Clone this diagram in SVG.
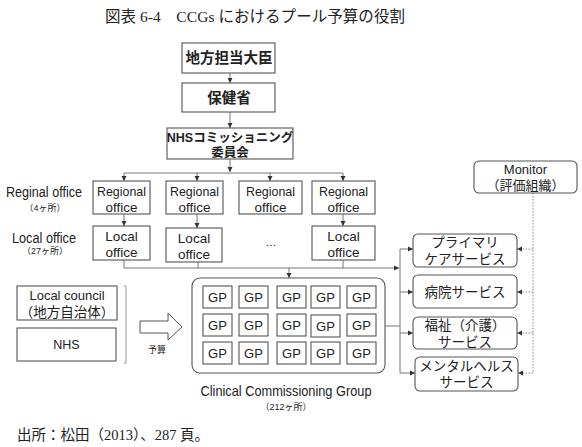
<svg xmlns="http://www.w3.org/2000/svg" width="582" height="447" viewBox="0 0 582 447">
<defs>
<style>
.bx{fill:#fff;stroke:#555;stroke-width:1.1}
.t{font-family:"Liberation Sans","Noto Sans CJK JP",sans-serif;fill:#222;text-anchor:middle;dominant-baseline:central}
.tb{font-weight:bold}
.c{fill:none;stroke:#777;stroke-width:1}
.d{fill:none;stroke:#888;stroke-width:1;stroke-dasharray:1.5 1.5}
.ser{font-family:"Liberation Serif","Noto Sans CJK JP",serif;fill:#222}
</style>
<marker id="ah" markerWidth="6" markerHeight="6" refX="5" refY="3" orient="auto" markerUnits="userSpaceOnUse">
<path d="M0,0.5 L5,3 L0,5.5 Z" fill="#333"/>
</marker>
</defs>
<rect width="582" height="447" fill="#fff"/>
<text class="ser" x="105" y="22" font-size="15.5" textLength="300" lengthAdjust="spacing">図表 6-4　CCGs におけるプール予算の役割</text>

<g id="connectors">
<path class="c" d="M230,73 V83" marker-end="url(#ah)"/>
<path class="c" d="M230,112 V128" marker-end="url(#ah)"/>
<path class="c" d="M230,159 V172" marker-end="url(#ah)"/>
<path class="c" d="M124,173 H343"/>
<path class="c" d="M124,173 V181" marker-end="url(#ah)"/>
<path class="c" d="M197,173 V181" marker-end="url(#ah)"/>
<path class="c" d="M270,173 V181" marker-end="url(#ah)"/>
<path class="c" d="M343,173 V181" marker-end="url(#ah)"/>
<path class="c" d="M124,214 V226" marker-end="url(#ah)"/>
<path class="c" d="M197,214 V228" marker-end="url(#ah)"/>
<path class="c" d="M343,214 V226" marker-end="url(#ah)"/>
<path class="c" d="M124,260 V268 M198,262 V268 M343,260 V268"/>
<path class="c" d="M124,268 H399" marker-end="url(#ah)"/>
<path class="c" d="M289,268 V278" marker-end="url(#ah)"/>
<path class="c" d="M400,249 V373 M385,326 H400"/>
<path class="c" d="M400,249 H413" marker-end="url(#ah)"/>
<path class="c" d="M400,292 H413" marker-end="url(#ah)"/>
<path class="c" d="M400,333 H413" marker-end="url(#ah)"/>
<path class="c" d="M400,373 H415" marker-end="url(#ah)"/>
<path class="d" d="M533,193 V373"/>
<path class="d" d="M533,249 H517" marker-end="url(#ah)"/>
<path class="d" d="M533,292 H517" marker-end="url(#ah)"/>
<path class="d" d="M533,333 H517" marker-end="url(#ah)"/>
<path class="d" d="M533,373 H518" marker-end="url(#ah)"/>
<path d="M124,286 H126 V363 H124" fill="none" stroke="#999" stroke-width="1"/>
</g>

<g id="minister"><rect class="bx" x="182" y="43" width="93" height="30"/><text class="t tb" x="229" y="58" font-size="14.5">地方担当大臣</text></g>
<g id="dh"><rect class="bx" x="182" y="83" width="93" height="29"/><text class="t tb" x="229" y="98" font-size="14.5">保健省</text></g>
<g id="nhsc"><rect class="bx" x="167" y="128" width="126" height="31"/><text class="t tb" x="230" y="138" font-size="12.5">NHSコミッショニング</text><text class="t tb" x="230" y="153" font-size="12.5">委員会</text></g>

<g id="lbl-regional"><text class="t" x="44" y="192" font-size="14" textLength="76" lengthAdjust="spacingAndGlyphs">Reginal office</text><text class="t" x="45" y="208" font-size="9">（4ヶ所）</text></g>
<g id="lbl-local"><text class="t" x="44" y="238" font-size="14" textLength="64" lengthAdjust="spacingAndGlyphs">Local office</text><text class="t" x="45" y="251" font-size="9">（27ヶ所）</text></g>

<g id="ro1"><rect class="bx" x="93" y="181" width="57" height="33"/><text class="t" x="121.5" y="191" font-size="13.5" textLength="49" lengthAdjust="spacingAndGlyphs">Regional</text><text class="t" x="121.5" y="207" font-size="13.5">office</text></g>
<g id="ro2"><rect class="bx" x="166" y="181" width="57" height="33"/><text class="t" x="194.5" y="191" font-size="13.5" textLength="49" lengthAdjust="spacingAndGlyphs">Regional</text><text class="t" x="194.5" y="207" font-size="13.5">office</text></g>
<g id="ro3"><rect class="bx" x="239" y="181" width="63" height="33"/><text class="t" x="270.5" y="191" font-size="13.5" textLength="49" lengthAdjust="spacingAndGlyphs">Regional</text><text class="t" x="270.5" y="207" font-size="13.5">office</text></g>
<g id="ro4"><rect class="bx" x="312" y="181" width="63" height="33"/><text class="t" x="343.5" y="191" font-size="13.5" textLength="49" lengthAdjust="spacingAndGlyphs">Regional</text><text class="t" x="343.5" y="207" font-size="13.5">office</text></g>

<g id="lo1"><rect class="bx" x="93" y="226" width="57" height="34"/><text class="t" x="121.5" y="236" font-size="13.5">Local</text><text class="t" x="121.5" y="252" font-size="13.5">office</text></g>
<g id="lo2"><rect class="bx" x="166" y="228" width="56" height="34"/><text class="t" x="194" y="238" font-size="13.5">Local</text><text class="t" x="194" y="254" font-size="13.5">office</text></g>
<g id="dots"><text class="t" x="271" y="242" font-size="11">…</text></g>
<g id="lo4"><rect class="bx" x="312" y="226" width="63" height="34"/><text class="t" x="343.5" y="236" font-size="13.5">Local</text><text class="t" x="343.5" y="252" font-size="13.5">office</text></g>

<g id="monitor"><rect class="bx" x="474" y="161" width="103" height="32" rx="5"/><text class="t" x="525.5" y="169" font-size="13">Monitor</text><text class="t" x="525.5" y="185" font-size="13">（評価組織）</text></g>

<g id="svc1"><rect class="bx" x="413" y="234" width="104" height="33" rx="5"/><text class="t" x="465" y="242" font-size="13.5">プライマリ</text><text class="t" x="465" y="259" font-size="13.5">ケアサービス</text></g>
<g id="svc2"><rect class="bx" x="413" y="275" width="104" height="33" rx="5"/><text class="t" x="465" y="292" font-size="13.5">病院サービス</text></g>
<g id="svc3"><rect class="bx" x="413" y="317" width="104" height="32" rx="5"/><text class="t" x="465" y="325" font-size="13.5">福祉（介護）</text><text class="t" x="465" y="342" font-size="13.5">サービス</text></g>
<g id="svc4"><rect class="bx" x="415" y="357" width="103" height="34" rx="5"/><text class="t" x="466.5" y="366" font-size="13.5">メンタルヘルス</text><text class="t" x="466.5" y="382" font-size="13.5">サービス</text></g>

<g id="council"><rect class="bx" x="17" y="286" width="100" height="34"/><text class="t" x="67" y="295" font-size="13">Local council</text><text class="t" x="67" y="312" font-size="13.5">（地方自治体）</text></g>
<g id="nhs"><rect class="bx" x="17" y="328" width="99" height="33"/><text class="t" x="66.5" y="345" font-size="12.5">NHS</text></g>

<g id="budget"><polygon points="140,321 168,321 168,313 182,327 168,340 168,333 140,333" fill="#fff" stroke="#555" stroke-width="1"/><text class="t" x="157" y="350" font-size="9">予算</text></g>

<g id="ccg">
<rect class="bx" x="192" y="278" width="193" height="95" rx="8"/>
<g font-size="13">
<rect class="bx" x="203" y="286" width="29" height="22"/><text class="t" x="217.5" y="297">GP</text>
<rect class="bx" x="239" y="286" width="29" height="22"/><text class="t" x="253.5" y="297">GP</text>
<rect class="bx" x="277" y="286" width="29" height="22"/><text class="t" x="291.5" y="297">GP</text>
<rect class="bx" x="311" y="286" width="29" height="22"/><text class="t" x="325.5" y="297">GP</text>
<rect class="bx" x="347" y="286" width="29" height="22"/><text class="t" x="361.5" y="297">GP</text>
<rect class="bx" x="203" y="314" width="29" height="22"/><text class="t" x="217.5" y="325">GP</text>
<rect class="bx" x="239" y="314" width="29" height="22"/><text class="t" x="253.5" y="325">GP</text>
<rect class="bx" x="277" y="314" width="29" height="22"/><text class="t" x="291.5" y="325">GP</text>
<rect class="bx" x="311" y="315" width="29" height="22"/><text class="t" x="325.5" y="326">GP</text>
<rect class="bx" x="347" y="314" width="29" height="22"/><text class="t" x="361.5" y="325">GP</text>
<rect class="bx" x="203" y="342" width="29" height="22"/><text class="t" x="217.5" y="353">GP</text>
<rect class="bx" x="239" y="342" width="29" height="22"/><text class="t" x="253.5" y="353">GP</text>
<rect class="bx" x="277" y="342" width="29" height="22"/><text class="t" x="291.5" y="353">GP</text>
<rect class="bx" x="311" y="342" width="29" height="22"/><text class="t" x="325.5" y="353">GP</text>
<rect class="bx" x="347" y="342" width="29" height="22"/><text class="t" x="361.5" y="353">GP</text>
</g>
<text class="t" x="286" y="391" font-size="14.5" textLength="171" lengthAdjust="spacingAndGlyphs">Clinical Commissioning Group</text>
<text class="t" x="286" y="407" font-size="9">（212ヶ所）</text>
</g>

<text class="ser" x="17" y="440" font-size="14.5">出所：松田（2013）、287 頁。</text>
</svg>
